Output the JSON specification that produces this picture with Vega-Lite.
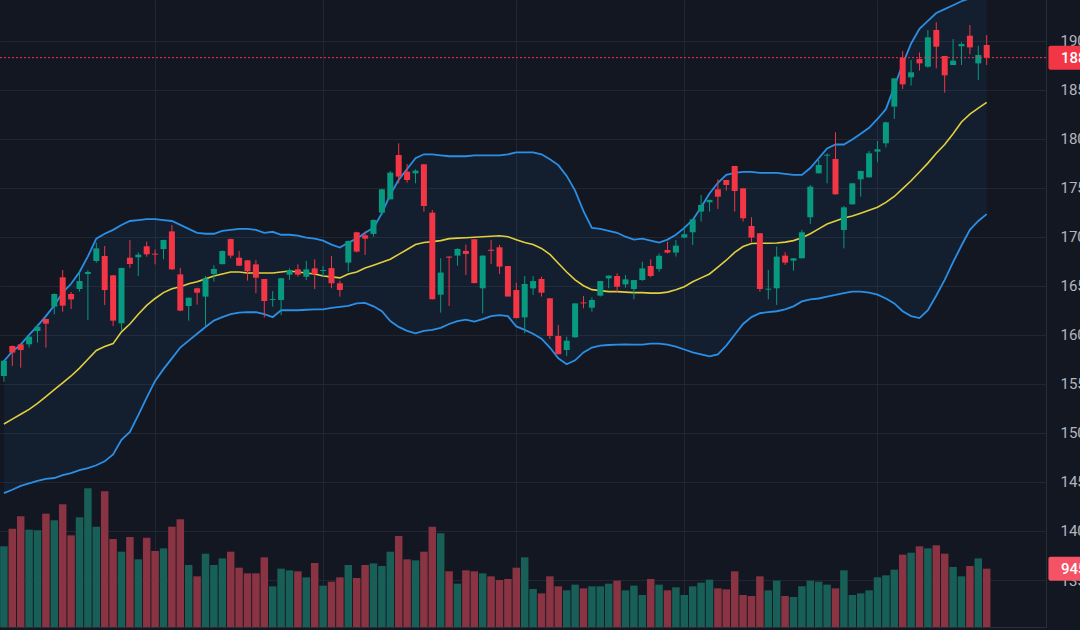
{
"$schema": "https://vega.github.io/schema/vega-lite/v6.json",
"width": 1046, "height": 627,
"autosize": "none",
"padding": {"left": 0, "top": 0, "right": 34, "bottom": 3},
"background": "#131722",
"config": {"view": {"stroke": null}},
"data": {"values": [
{"i":0,"o":155.8,"h":157.4,"l":155.22,"c":157.36,"v":1307,"u":157.3,"m":150.9,"lo":143.85},
{"i":1,"o":158.86,"h":158.9,"l":156.82,"c":158.18,"v":1593,"u":158.3,"m":151.4,"lo":144.2},
{"i":2,"o":159.03,"h":159.1,"l":156.65,"c":158.45,"v":1793,"u":159.0,"m":151.9,"lo":144.6},
{"i":3,"o":159.03,"h":159.9,"l":158.7,"c":159.81,"v":1577,"u":160.0,"m":152.4,"lo":144.85},
{"i":4,"o":160.39,"h":161.1,"l":159.2,"c":160.83,"v":1566,"u":160.9,"m":153.0,"lo":145.1},
{"i":5,"o":161.61,"h":161.65,"l":158.69,"c":161.13,"v":1836,"u":161.9,"m":153.7,"lo":145.3},
{"i":6,"o":162.87,"h":164.2,"l":162.08,"c":164.16,"v":1728,"u":163.0,"m":154.4,"lo":145.4},
{"i":7,"o":165.86,"h":166.6,"l":162.36,"c":162.97,"v":1987,"u":164.3,"m":155.1,"lo":145.7},
{"i":8,"o":164.16,"h":164.36,"l":162.63,"c":163.61,"v":1485,"u":165.2,"m":155.8,"lo":145.9},
{"i":9,"o":164.67,"h":166.6,"l":164.4,"c":165.48,"v":1777,"u":166.4,"m":156.6,"lo":146.2},
{"i":10,"o":166.2,"h":166.6,"l":161.5,"c":166.4,"v":2246,"u":168.0,"m":157.5,"lo":146.4},
{"i":11,"o":167.52,"h":169.4,"l":167.35,"c":168.81,"v":1625,"u":169.8,"m":158.4,"lo":146.7},
{"i":12,"o":168.03,"h":169.05,"l":163.04,"c":164.56,"v":2198,"u":170.3,"m":158.8,"lo":147.1},
{"i":13,"o":166.06,"h":166.1,"l":160.9,"c":161.44,"v":1426,"u":170.7,"m":159.1,"lo":147.8},
{"i":14,"o":161.17,"h":166.85,"l":160.5,"c":166.81,"v":1220,"u":171.2,"m":160.3,"lo":149.3},
{"i":15,"o":167.86,"h":169.66,"l":166.84,"c":167.21,"v":1458,"u":171.6,"m":161.1,"lo":150.1},
{"i":16,"o":167.9,"h":168.4,"l":165.99,"c":168.17,"v":1096,"u":171.7,"m":162.1,"lo":151.8},
{"i":17,"o":169.02,"h":169.5,"l":167.96,"c":168.2,"v":1447,"u":171.8,"m":163.0,"lo":153.6},
{"i":18,"o":168.27,"h":168.7,"l":167.18,"c":168.17,"v":1231,"u":171.8,"m":163.7,"lo":155.3},
{"i":19,"o":168.74,"h":169.7,"l":167.69,"c":169.66,"v":1274,"u":171.7,"m":164.3,"lo":156.5},
{"i":20,"o":170.54,"h":171.2,"l":166.6,"c":166.67,"v":1625,"u":171.6,"m":164.7,"lo":157.6},
{"i":21,"o":166.16,"h":166.8,"l":162.4,"c":162.46,"v":1744,"u":171.2,"m":164.9,"lo":158.7},
{"i":22,"o":162.93,"h":163.8,"l":161.44,"c":163.78,"v":1004,"u":170.8,"m":165.2,"lo":159.4},
{"i":23,"o":164.74,"h":164.8,"l":163.07,"c":164.29,"v":821,"u":170.4,"m":165.4,"lo":160.1},
{"i":24,"o":163.89,"h":165.99,"l":160.83,"c":165.75,"v":1188,"u":170.3,"m":165.7,"lo":160.8},
{"i":25,"o":166.2,"h":167.1,"l":165.42,"c":166.71,"v":1004,"u":170.3,"m":166.0,"lo":161.45},
{"i":26,"o":167.2,"h":168.6,"l":167.18,"c":168.54,"v":1112,"u":170.6,"m":166.2,"lo":161.8},
{"i":27,"o":169.76,"h":169.8,"l":167.8,"c":168.07,"v":1220,"u":170.7,"m":166.4,"lo":162.1},
{"i":28,"o":167.86,"h":168.54,"l":167.0,"c":167.05,"v":961,"u":170.8,"m":166.4,"lo":162.25},
{"i":29,"o":167.59,"h":167.6,"l":165.52,"c":166.47,"v":869,"u":170.8,"m":166.3,"lo":162.3},
{"i":30,"o":167.18,"h":167.6,"l":164.23,"c":165.82,"v":869,"u":170.7,"m":166.3,"lo":162.3},
{"i":31,"o":165.69,"h":165.7,"l":161.75,"c":163.44,"v":1129,"u":170.4,"m":166.3,"lo":162.1},
{"i":32,"o":163.55,"h":164.46,"l":162.87,"c":163.65,"v":659,"u":170.5,"m":166.3,"lo":161.8},
{"i":33,"o":163.55,"h":165.8,"l":162.0,"c":165.76,"v":945,"u":170.2,"m":166.4,"lo":162.5},
{"i":34,"o":166.13,"h":166.77,"l":165.6,"c":166.6,"v":918,"u":170.2,"m":166.5,"lo":162.5},
{"i":35,"o":166.67,"h":167.18,"l":165.92,"c":166.13,"v":902,"u":170.1,"m":166.4,"lo":162.5},
{"i":36,"o":165.92,"h":167.52,"l":165.58,"c":166.67,"v":805,"u":169.9,"m":166.3,"lo":162.55},
{"i":37,"o":166.77,"h":167.69,"l":164.67,"c":166.2,"v":1037,"u":169.8,"m":166.2,"lo":162.6},
{"i":38,"o":166.5,"h":167.0,"l":165.92,"c":166.6,"v":670,"u":169.6,"m":166.0,"lo":162.6},
{"i":39,"o":166.8,"h":168.03,"l":164.74,"c":165.25,"v":734,"u":169.2,"m":165.9,"lo":162.75},
{"i":40,"o":165.25,"h":165.52,"l":163.89,"c":164.57,"v":805,"u":168.9,"m":165.8,"lo":162.85},
{"i":41,"o":167.36,"h":169.6,"l":166.44,"c":169.56,"v":1004,"u":169.4,"m":166.2,"lo":162.95},
{"i":42,"o":170.45,"h":170.5,"l":168.4,"c":168.48,"v":794,"u":169.8,"m":166.4,"lo":163.2},
{"i":43,"o":170.14,"h":170.52,"l":168.14,"c":169.8,"v":1004,"u":170.4,"m":166.8,"lo":163.25},
{"i":44,"o":170.28,"h":171.75,"l":170.01,"c":171.71,"v":1031,"u":170.9,"m":167.1,"lo":162.9},
{"i":45,"o":172.45,"h":174.9,"l":172.2,"c":174.83,"v":988,"u":172.4,"m":167.4,"lo":162.4},
{"i":46,"o":173.81,"h":176.7,"l":173.8,"c":176.53,"v":1220,"u":174.3,"m":167.7,"lo":161.4},
{"i":47,"o":178.33,"h":179.52,"l":175.44,"c":176.12,"v":1474,"u":175.8,"m":168.2,"lo":160.8},
{"i":48,"o":176.63,"h":177.41,"l":175.51,"c":175.78,"v":1096,"u":176.9,"m":168.7,"lo":160.4},
{"i":49,"o":176.46,"h":176.87,"l":175.44,"c":176.73,"v":1080,"u":178.0,"m":169.2,"lo":160.15},
{"i":50,"o":177.38,"h":177.4,"l":172.56,"c":173.13,"v":1220,"u":178.4,"m":169.4,"lo":160.4},
{"i":51,"o":172.45,"h":172.73,"l":163.6,"c":163.62,"v":1625,"u":178.4,"m":169.5,"lo":160.5},
{"i":52,"o":164.09,"h":167.8,"l":162.26,"c":166.34,"v":1517,"u":178.3,"m":169.6,"lo":160.7},
{"i":53,"o":167.97,"h":168.0,"l":162.94,"c":167.86,"v":902,"u":178.2,"m":169.8,"lo":161.1},
{"i":54,"o":168.07,"h":168.82,"l":167.05,"c":168.75,"v":702,"u":178.2,"m":169.85,"lo":161.4},
{"i":55,"o":168.55,"h":169.2,"l":166.1,"c":168.24,"v":918,"u":178.2,"m":169.9,"lo":161.55},
{"i":56,"o":169.74,"h":169.76,"l":165.25,"c":165.27,"v":902,"u":178.3,"m":169.95,"lo":161.35},
{"i":57,"o":164.74,"h":168.1,"l":162.19,"c":168.07,"v":869,"u":178.3,"m":170.0,"lo":161.6},
{"i":58,"o":168.67,"h":169.67,"l":167.22,"c":168.56,"v":821,"u":178.3,"m":170.05,"lo":161.9},
{"i":59,"o":168.92,"h":169.16,"l":166.2,"c":166.95,"v":761,"u":178.3,"m":170.1,"lo":162.0},
{"i":60,"o":167.01,"h":167.03,"l":163.89,"c":163.9,"v":778,"u":178.4,"m":170.0,"lo":161.9},
{"i":61,"o":164.56,"h":165.31,"l":161.68,"c":161.7,"v":961,"u":178.6,"m":169.7,"lo":160.85},
{"i":62,"o":161.78,"h":165.99,"l":160.15,"c":165.18,"v":1129,"u":178.6,"m":169.4,"lo":160.5},
{"i":63,"o":164.73,"h":165.99,"l":164.05,"c":165.48,"v":616,"u":178.6,"m":169.2,"lo":160.1},
{"i":64,"o":165.69,"h":165.92,"l":163.89,"c":164.29,"v":545,"u":178.4,"m":168.8,"lo":159.6},
{"i":65,"o":163.72,"h":163.74,"l":159.57,"c":159.88,"v":821,"u":177.9,"m":168.2,"lo":158.7},
{"i":66,"o":159.88,"h":160.99,"l":158.0,"c":158.02,"v":659,"u":177.3,"m":167.3,"lo":157.6},
{"i":67,"o":158.45,"h":159.81,"l":157.84,"c":159.4,"v":594,"u":176.2,"m":166.4,"lo":157.0},
{"i":68,"o":159.74,"h":163.21,"l":159.72,"c":163.2,"v":686,"u":174.7,"m":165.6,"lo":157.4},
{"i":69,"o":163.3,"h":163.95,"l":162.7,"c":163.2,"v":626,"u":172.6,"m":165.0,"lo":158.2},
{"i":70,"o":162.76,"h":163.82,"l":162.36,"c":163.55,"v":659,"u":170.9,"m":164.6,"lo":158.7},
{"i":71,"o":163.99,"h":165.5,"l":163.9,"c":165.48,"v":659,"u":170.8,"m":164.5,"lo":158.9},
{"i":72,"o":165.75,"h":166.05,"l":164.73,"c":166.03,"v":702,"u":170.6,"m":164.4,"lo":158.96},
{"i":73,"o":165.99,"h":166.26,"l":164.39,"c":164.9,"v":751,"u":170.4,"m":164.4,"lo":159.0},
{"i":74,"o":165.14,"h":166.09,"l":164.8,"c":165.65,"v":594,"u":170.0,"m":164.35,"lo":159.03},
{"i":75,"o":164.67,"h":165.6,"l":163.61,"c":165.58,"v":670,"u":169.7,"m":164.3,"lo":159.0},
{"i":76,"o":165.58,"h":167.45,"l":165.5,"c":166.77,"v":518,"u":169.8,"m":164.3,"lo":159.0},
{"i":77,"o":167.01,"h":167.69,"l":165.86,"c":165.99,"v":778,"u":169.6,"m":164.25,"lo":159.1},
{"i":78,"o":166.7,"h":168.3,"l":166.43,"c":168.06,"v":686,"u":169.4,"m":164.25,"lo":159.1},
{"i":79,"o":168.64,"h":169.49,"l":168.3,"c":168.37,"v":594,"u":169.7,"m":164.35,"lo":159.0},
{"i":80,"o":168.38,"h":169.67,"l":167.97,"c":169.09,"v":643,"u":170.2,"m":164.6,"lo":158.8},
{"i":81,"o":169.91,"h":171.09,"l":169.84,"c":170.25,"v":518,"u":170.9,"m":164.9,"lo":158.5},
{"i":82,"o":170.45,"h":171.79,"l":169.16,"c":171.77,"v":659,"u":171.7,"m":165.4,"lo":158.2},
{"i":83,"o":172.56,"h":174.26,"l":171.54,"c":173.24,"v":718,"u":173.0,"m":165.8,"lo":158.0},
{"i":84,"o":173.51,"h":173.77,"l":172.56,"c":173.75,"v":767,"u":174.4,"m":166.2,"lo":157.8},
{"i":85,"o":174.83,"h":175.85,"l":172.83,"c":174.08,"v":626,"u":175.5,"m":166.9,"lo":158.0},
{"i":86,"o":175.78,"h":175.8,"l":174.7,"c":175.27,"v":610,"u":176.3,"m":167.6,"lo":158.9},
{"i":87,"o":177.21,"h":177.23,"l":172.56,"c":174.66,"v":902,"u":176.5,"m":168.4,"lo":160.0},
{"i":88,"o":174.93,"h":174.95,"l":171.54,"c":171.88,"v":518,"u":176.6,"m":169.0,"lo":161.1},
{"i":89,"o":171.09,"h":171.98,"l":169.4,"c":169.91,"v":502,"u":176.6,"m":169.3,"lo":161.8},
{"i":90,"o":170.35,"h":170.37,"l":164.4,"c":164.67,"v":821,"u":176.5,"m":169.33,"lo":162.2},
{"i":91,"o":164.6,"h":166.61,"l":163.62,"c":164.7,"v":594,"u":176.5,"m":169.33,"lo":162.3},
{"i":92,"o":164.74,"h":168.99,"l":163.04,"c":167.97,"v":751,"u":176.5,"m":169.35,"lo":162.4},
{"i":93,"o":168.07,"h":168.41,"l":167.12,"c":167.36,"v":502,"u":176.4,"m":169.45,"lo":162.6},
{"i":94,"o":167.56,"h":167.82,"l":166.54,"c":167.8,"v":486,"u":176.3,"m":169.6,"lo":162.9},
{"i":95,"o":167.8,"h":170.69,"l":167.78,"c":170.45,"v":659,"u":176.3,"m":169.9,"lo":163.4},
{"i":96,"o":171.98,"h":175.27,"l":171.3,"c":175.1,"v":751,"u":177.0,"m":170.3,"lo":163.6},
{"i":97,"o":176.46,"h":177.82,"l":176.44,"c":177.31,"v":734,"u":178.0,"m":170.8,"lo":163.7},
{"i":98,"o":178.26,"h":178.5,"l":175.44,"c":178.36,"v":686,"u":179.0,"m":171.3,"lo":163.9},
{"i":99,"o":177.92,"h":180.64,"l":174.3,"c":174.32,"v":626,"u":179.4,"m":171.6,"lo":164.06},
{"i":100,"o":170.68,"h":173.13,"l":168.81,"c":172.99,"v":918,"u":179.4,"m":171.9,"lo":164.25},
{"i":101,"o":173.3,"h":175.46,"l":173.28,"c":175.44,"v":518,"u":179.9,"m":172.1,"lo":164.4},
{"i":102,"o":175.85,"h":176.72,"l":174.08,"c":176.7,"v":545,"u":180.5,"m":172.4,"lo":164.4},
{"i":103,"o":176.05,"h":178.74,"l":176.03,"c":178.5,"v":594,"u":181.1,"m":172.7,"lo":164.3},
{"i":104,"o":178.67,"h":179.76,"l":177.58,"c":178.91,"v":805,"u":182.0,"m":173.0,"lo":164.1},
{"i":105,"o":179.52,"h":181.73,"l":179.11,"c":181.66,"v":837,"u":183.0,"m":173.5,"lo":163.7},
{"i":106,"o":183.26,"h":186.16,"l":182.0,"c":186.14,"v":929,"u":185.3,"m":174.1,"lo":163.2},
{"i":107,"o":188.25,"h":188.93,"l":185.06,"c":185.53,"v":1172,"u":187.6,"m":174.9,"lo":162.4},
{"i":108,"o":186.25,"h":188.01,"l":185.4,"c":186.76,"v":1204,"u":189.7,"m":175.7,"lo":161.9},
{"i":109,"o":188.11,"h":188.79,"l":186.93,"c":187.67,"v":1307,"u":191.2,"m":176.6,"lo":161.7},
{"i":110,"o":187.33,"h":191.07,"l":187.23,"c":190.32,"v":1274,"u":192.0,"m":177.5,"lo":162.5},
{"i":111,"o":191.07,"h":191.85,"l":187.16,"c":189.37,"v":1323,"u":192.8,"m":178.5,"lo":164.0},
{"i":112,"o":188.42,"h":188.44,"l":184.68,"c":186.45,"v":1188,"u":193.2,"m":179.4,"lo":165.6},
{"i":113,"o":187.5,"h":190.15,"l":187.48,"c":187.95,"v":972,"u":193.6,"m":180.5,"lo":167.4},
{"i":114,"o":189.41,"h":189.81,"l":187.5,"c":189.64,"v":821,"u":194.0,"m":181.7,"lo":169.1},
{"i":115,"o":190.49,"h":191.58,"l":188.59,"c":189.3,"v":988,"u":194.3,"m":182.5,"lo":170.7},
{"i":116,"o":187.67,"h":189.47,"l":185.97,"c":188.52,"v":1112,"u":194.6,"m":183.1,"lo":171.6},
{"i":117,"o":189.54,"h":190.56,"l":187.5,"c":188.25,"v":945,"u":194.8,"m":183.7,"lo":172.3}
]},
"layer": [
{"mark": {"type": "area", "color": "#2196f3", "opacity": 0.06},
 "encoding": {
  "x": {"field": "i", "type": "quantitative", "scale": {"domain": [-0.4643, 124.06], "nice": false, "zero": false, "padding": 0}, "axis": {"values": [18, 38, 61, 81, 104], "grid": true, "gridColor": "#222631", "labels": false, "ticks": false, "domain": true, "domainColor": "#2a2e39", "title": null}},
  "y": {"field": "u", "type": "quantitative", "scale": {"domain": [130.21, 194.13], "nice": false, "zero": false}, "axis": {"orient": "right", "values": [135, 140, 145, 150, 155, 160, 165, 170, 175, 180, 185, 190], "grid": true, "gridColor": "#222631", "ticks": false, "domain": true, "domainColor": "#2a2e39", "labelPadding": 14, "labelAlign": "left", "labelBaseline": "middle", "labelColor": "#b2b5be", "labelFontSize": 15, "labelFont": "Roboto", "labelOverlap": false, "title": null}},
  "y2": {"field": "lo"}
 }},
{"mark": {"type": "bar", "orient": "vertical", "width": 7.5},
 "encoding": {
  "x": {"field": "i", "type": "quantitative", "scale": {"domain": [-0.4643, 124.06], "nice": false, "zero": false, "padding": 0}, "axis": {"values": [18, 38, 61, 81, 104], "grid": true, "gridColor": "#222631", "labels": false, "ticks": false, "domain": true, "domainColor": "#2a2e39", "title": null}},
  "y": {"field": "v", "type": "quantitative", "stack": null, "scale": {"domain": [0, 10157], "nice": false}, "axis": null},
  "color": {"condition": {"test": "datum.c >= datum.o", "value": "#175f57"}, "value": "#8a3342"}
 }},
{"mark": {"type": "line", "color": "#2b8fe6", "strokeWidth": 1.8},
 "encoding": {
  "x": {"field": "i", "type": "quantitative", "scale": {"domain": [-0.4643, 124.06], "nice": false, "zero": false, "padding": 0}, "axis": {"values": [18, 38, 61, 81, 104], "grid": true, "gridColor": "#222631", "labels": false, "ticks": false, "domain": true, "domainColor": "#2a2e39", "title": null}},
  "y": {"field": "u", "type": "quantitative", "scale": {"domain": [130.21, 194.13], "nice": false, "zero": false}, "axis": null}
 }},
{"mark": {"type": "line", "color": "#2b8fe6", "strokeWidth": 1.8},
 "encoding": {
  "x": {"field": "i", "type": "quantitative", "scale": {"domain": [-0.4643, 124.06], "nice": false, "zero": false, "padding": 0}, "axis": {"values": [18, 38, 61, 81, 104], "grid": true, "gridColor": "#222631", "labels": false, "ticks": false, "domain": true, "domainColor": "#2a2e39", "title": null}},
  "y": {"field": "lo", "type": "quantitative", "scale": {"domain": [130.21, 194.13], "nice": false, "zero": false}, "axis": null}
 }},
{"mark": {"type": "line", "color": "#e2cf3f", "strokeWidth": 1.6},
 "encoding": {
  "x": {"field": "i", "type": "quantitative", "scale": {"domain": [-0.4643, 124.06], "nice": false, "zero": false, "padding": 0}, "axis": {"values": [18, 38, 61, 81, 104], "grid": true, "gridColor": "#222631", "labels": false, "ticks": false, "domain": true, "domainColor": "#2a2e39", "title": null}},
  "y": {"field": "m", "type": "quantitative", "scale": {"domain": [130.21, 194.13], "nice": false, "zero": false}, "axis": null}
 }},
{"mark": {"type": "rule", "strokeWidth": 1},
 "encoding": {
  "x": {"field": "i", "type": "quantitative", "scale": {"domain": [-0.4643, 124.06], "nice": false, "zero": false, "padding": 0}, "axis": {"values": [18, 38, 61, 81, 104], "grid": true, "gridColor": "#222631", "labels": false, "ticks": false, "domain": true, "domainColor": "#2a2e39", "title": null}},
  "y": {"field": "l", "type": "quantitative", "scale": {"domain": [130.21, 194.13], "nice": false, "zero": false}, "axis": null},
  "y2": {"field": "h"},
  "color": {"condition": {"test": "datum.c >= datum.o", "value": "#089981"}, "value": "#f23645"}
 }},
{"mark": {"type": "bar", "orient": "vertical", "width": 6},
 "encoding": {
  "x": {"field": "i", "type": "quantitative", "scale": {"domain": [-0.4643, 124.06], "nice": false, "zero": false, "padding": 0}, "axis": {"values": [18, 38, 61, 81, 104], "grid": true, "gridColor": "#222631", "labels": false, "ticks": false, "domain": true, "domainColor": "#2a2e39", "title": null}},
  "y": {"field": "o", "type": "quantitative", "stack": null, "scale": {"domain": [130.21, 194.13], "nice": false, "zero": false}, "axis": null},
  "y2": {"field": "c"},
  "color": {"condition": {"test": "datum.c >= datum.o", "value": "#089981"}, "value": "#f23645"}
 }},
{"transform": [{"filter": "datum.i == 117"}],
 "mark": {"type": "rule", "color": "#f23645", "strokeWidth": 1, "strokeDash": [2, 2]},
 "encoding": {
  "y": {"field": "c", "type": "quantitative", "scale": {"domain": [130.21, 194.13], "nice": false, "zero": false}, "axis": null}
 }},
{"transform": [{"filter": "datum.i == 117"}],
 "mark": {"type": "rect", "color": "#f23645", "cornerRadius": 2, "yOffset": -12, "y2Offset": 12},
 "encoding": {
  "x": {"datum": 124.35}, "x2": {"datum": 131},
  "y": {"field": "c", "type": "quantitative", "scale": {"domain": [130.21, 194.13], "nice": false, "zero": false}, "axis": null},
  "y2": {"field": "c"}
 }},
{"transform": [{"filter": "datum.i == 117"}],
 "mark": {"type": "text", "align": "left", "baseline": "middle", "color": "#ffffff", "font": "Roboto", "fontSize": 15, "fontWeight": 500},
 "encoding": {
  "x": {"datum": 125.85},
  "y": {"field": "c", "type": "quantitative", "scale": {"domain": [130.21, 194.13], "nice": false, "zero": false}, "axis": null},
  "text": {"field": "c", "type": "quantitative", "format": ".2f"}
 }},
{"transform": [{"filter": "datum.i == 117"}],
 "mark": {"type": "rect", "color": "#f35365", "cornerRadius": 2, "yOffset": -12, "y2Offset": 12},
 "encoding": {
  "x": {"datum": 124.35}, "x2": {"datum": 131},
  "y": {"field": "v", "type": "quantitative", "scale": {"domain": [0, 10157], "nice": false}, "axis": null},
  "y2": {"field": "v"}
 }},
{"transform": [{"filter": "datum.i == 117"}],
 "mark": {"type": "text", "align": "left", "baseline": "middle", "color": "#ffffff", "font": "Roboto", "fontSize": 15, "fontWeight": 500},
 "encoding": {
  "x": {"datum": 125.85},
  "y": {"field": "v", "type": "quantitative", "scale": {"domain": [0, 10157], "nice": false}, "axis": null},
  "text": {"field": "v", "type": "quantitative", "format": "d"}
 }}
],
"resolve": {"scale": {"y": "independent"}}
}
